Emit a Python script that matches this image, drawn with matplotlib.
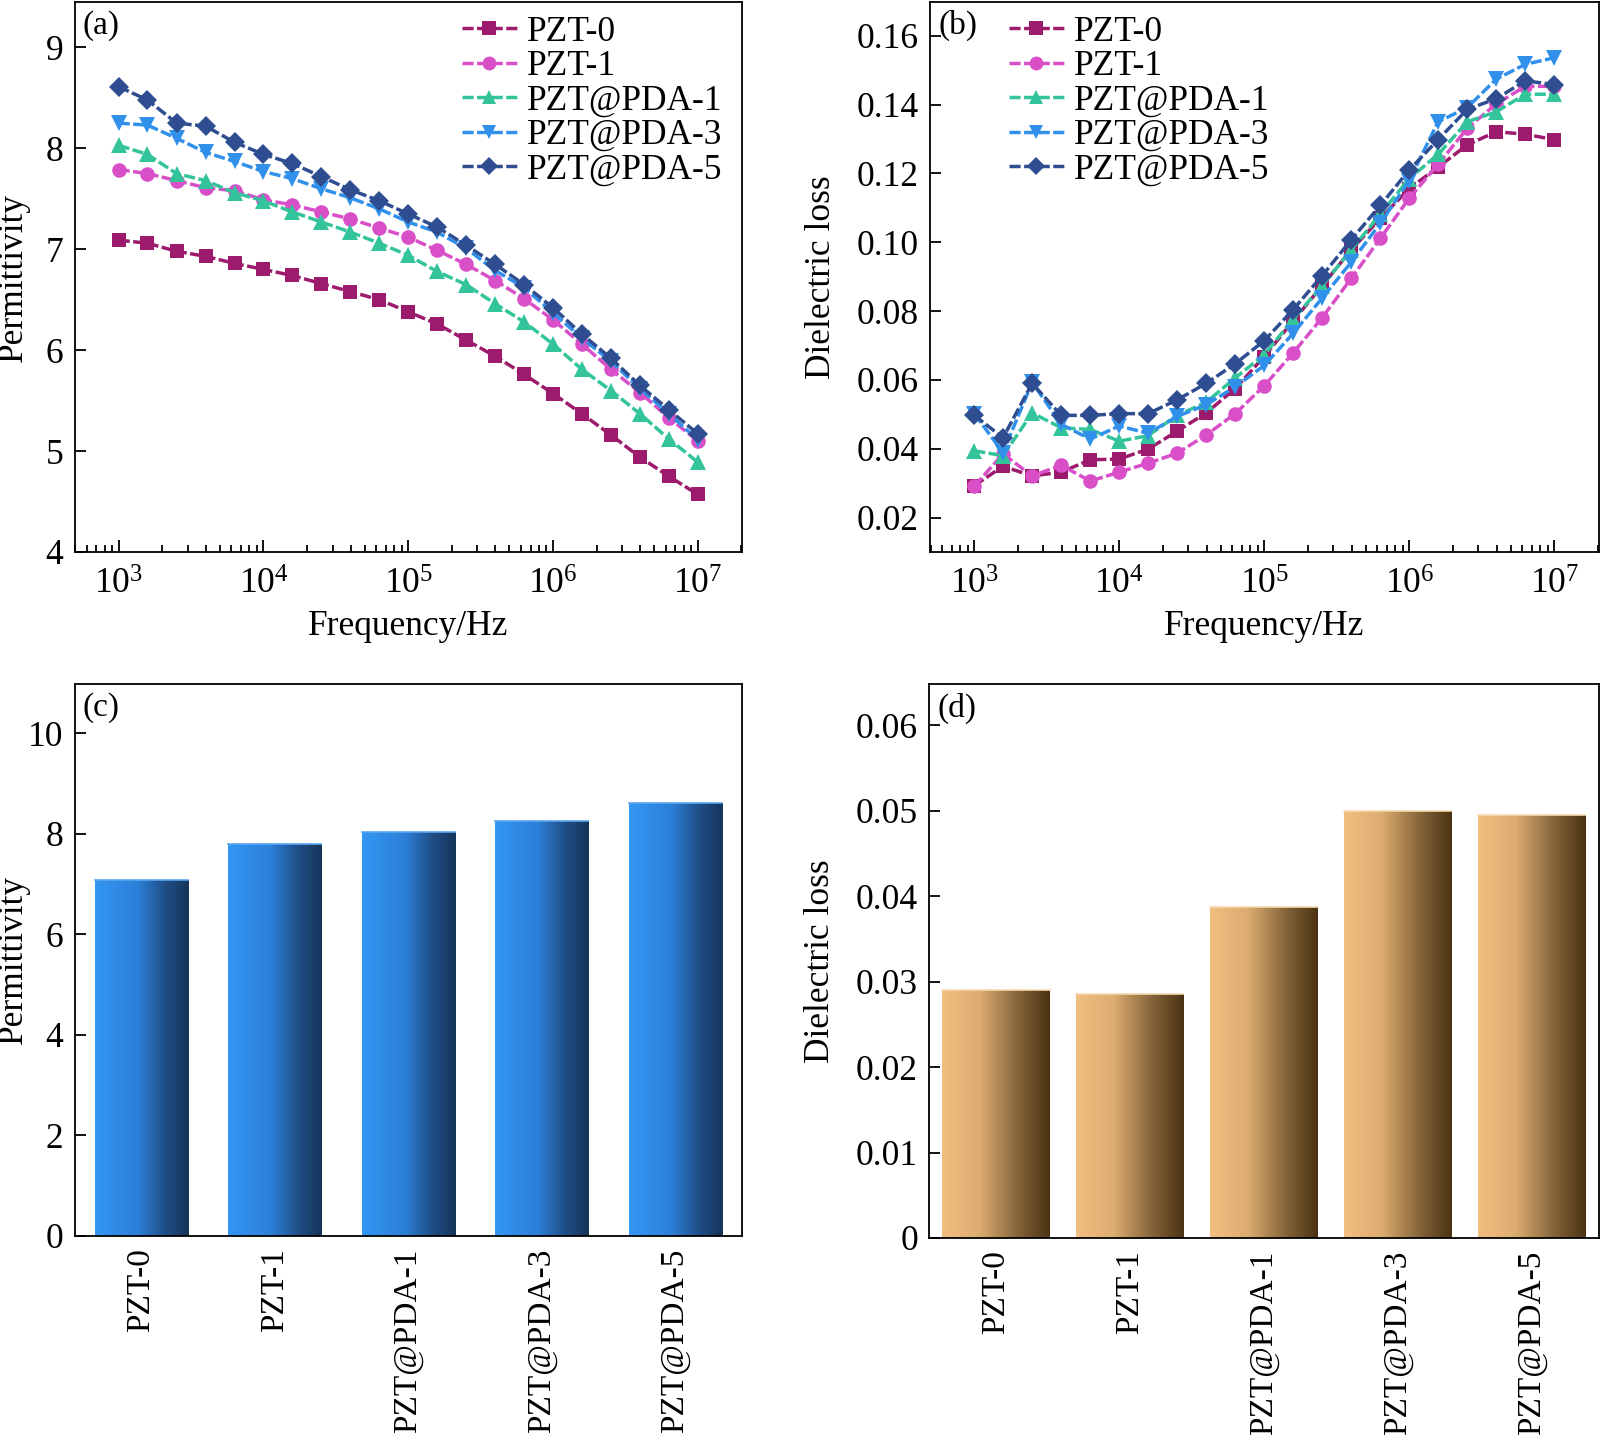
import numpy as np
import matplotlib
matplotlib.use("Agg")
import matplotlib.pyplot as plt
from matplotlib.colors import LinearSegmentedColormap
from matplotlib.ticker import FixedLocator, FuncFormatter, LogLocator, NullFormatter

plt.rcParams['font.family'] = ['Liberation Serif', 'DejaVu Serif']
plt.rcParams['mathtext.fontset'] = 'custom'
plt.rcParams['mathtext.rm'] = 'Liberation Serif'
plt.rcParams['mathtext.it'] = 'Liberation Serif:italic'

# ---------------- data ----------------
samples = ["PZT-0", "PZT-1", "PZT@PDA-1", "PZT@PDA-3", "PZT@PDA-5"]

freq = [1.00e3, 1.58e3, 2.51e3, 3.98e3, 6.31e3,
        1.00e4, 1.58e4, 2.51e4, 3.98e4, 6.31e4,
        1.00e5, 1.58e5, 2.51e5, 3.98e5, 6.31e5,
        1.00e6, 1.58e6, 2.51e6, 3.98e6, 6.31e6, 1.00e7]

perm_pzt0 = [7.09, 7.06, 6.98, 6.93, 6.86, 6.80, 6.74, 6.66, 6.58, 6.50, 6.38,
             6.26, 6.10, 5.94, 5.76, 5.57, 5.37, 5.16, 4.94, 4.75, 4.57]
perm_pzt1 = [7.79, 7.75, 7.68, 7.61, 7.58, 7.49, 7.44, 7.37, 7.30, 7.21, 7.12,
             6.99, 6.85, 6.69, 6.51, 6.30, 6.06, 5.81, 5.58, 5.33, 5.10]
perm_pda1 = [8.03, 7.94, 7.75, 7.68, 7.56, 7.48, 7.37, 7.27, 7.17, 7.06, 6.94,
             6.78, 6.65, 6.46, 6.28, 6.06, 5.81, 5.60, 5.37, 5.12, 4.89]
perm_pda3 = [8.25, 8.23, 8.10, 7.96, 7.87, 7.77, 7.70, 7.60, 7.51, 7.40, 7.27,
             7.17, 7.01, 6.79, 6.62, 6.37, 6.12, 5.89, 5.62, 5.37, 5.11]
perm_pda5 = [8.61, 8.48, 8.25, 8.22, 8.06, 7.94, 7.85, 7.72, 7.59, 7.48, 7.35,
             7.22, 7.04, 6.85, 6.65, 6.42, 6.16, 5.92, 5.65, 5.41, 5.17]

loss_pzt0 = [0.0293, 0.0349, 0.0321, 0.0332, 0.0368, 0.0370, 0.0399, 0.0451, 0.0504, 0.0575, 0.0668,
             0.0771, 0.0874, 0.0978, 0.1069, 0.1156, 0.1218, 0.1283, 0.1321, 0.1314, 0.1298]
loss_pzt1 = [0.0291, 0.0385, 0.0321, 0.0352, 0.0306, 0.0332, 0.0358, 0.0387, 0.0440, 0.0502, 0.0583,
             0.0678, 0.0781, 0.0895, 0.1011, 0.1128, 0.1226, 0.1331, 0.1402, 0.1453, 0.1453]
loss_pda1 = [0.0394, 0.0380, 0.0504, 0.0461, 0.0456, 0.0422, 0.0438, 0.0497, 0.0535, 0.0606, 0.0673,
             0.0776, 0.0874, 0.0978, 0.1081, 0.1185, 0.1255, 0.1350, 0.1379, 0.1430, 0.1430]
loss_pda3 = [0.0502, 0.0389, 0.0593, 0.0471, 0.0428, 0.0466, 0.0445, 0.0494, 0.0528, 0.0580, 0.0642,
             0.0735, 0.0838, 0.0942, 0.1055, 0.1179, 0.1350, 0.1391, 0.1474, 0.1517, 0.1536]
loss_pda5 = [0.0497, 0.0432, 0.0590, 0.0497, 0.0497, 0.0502, 0.0502, 0.0542, 0.0590, 0.0647, 0.0714,
             0.0804, 0.0903, 0.1007, 0.1107, 0.1210, 0.1298, 0.1386, 0.1417, 0.1469, 0.1458]

perm_bar = [7.09, 7.79, 8.03, 8.25, 8.61]
loss_bar = [0.0290, 0.0285, 0.0387, 0.0499, 0.0495]

# ---------------- style ----------------
colors = ["#9C1B6C", "#D94FC8", "#33C49B", "#3191EA", "#2F4E92"]
markers = ["s", "o", "^", "v", "D"]
msizes = [10, 10.5, 11, 11, 10]
FS = 25.5
FS_BAR = 24

W, H = 1600, 1443
fig = plt.figure(figsize=(W / 100, H / 100), dpi=100)


def rect(l, r, t, b):
    return [l / W, 1 - b / H, (r - l) / W, (b - t) / H]


ax_a = fig.add_axes(rect(74.5, 742, 2, 552))
ax_b = fig.add_axes(rect(930, 1598.5, 2, 552))
ax_c = fig.add_axes(rect(74.5, 742, 684, 1236))
ax_d = fig.add_axes(rect(929, 1598.5, 684, 1238))

for ax in (ax_a, ax_b, ax_c, ax_d):
    for sp in ax.spines.values():
        sp.set_linewidth(1.3)
    ax.tick_params(which='both', direction='in', top=False, right=False,
                   labelsize=FS, width=1.3)
    ax.tick_params(which='major', length=8)
    ax.tick_params(which='minor', length=5)
    ax.tick_params(axis='y', pad=8)


def line_panel(ax, series, ylim, yticks, yfmt, ylabel, label, label_x, leg_anchor):
    for vals, name, c, m, ms in zip(series, samples, colors, markers, msizes):
        ax.plot(freq, vals, linestyle=(0, (3.2, 1.0)), linewidth=2.5, color=c,
                marker=m, markersize=ms, markeredgewidth=0, label=name)
    ax.set_xscale('log')
    ax.set_xlim(10 ** 2.695, 10 ** 7.305)
    ax.set_ylim(*ylim)
    ax.xaxis.set_major_locator(FixedLocator([1e3, 1e4, 1e5, 1e6, 1e7]))
    ax.xaxis.set_minor_locator(LogLocator(base=10, subs=np.arange(2, 10), numticks=20))
    ax.xaxis.set_minor_formatter(NullFormatter())
    ax.xaxis.set_major_formatter(FuncFormatter(lambda v, p: r"$10^{%d}$" % round(np.log10(v))))
    ax.tick_params(axis='x', which='major', pad=12, length=9)
    ax.yaxis.set_major_locator(FixedLocator(yticks))
    ax.yaxis.set_major_formatter(FuncFormatter(yfmt))
    ax.set_xlabel("Frequency/Hz", fontsize=FS, labelpad=6)
    ax.set_ylabel(ylabel, fontsize=FS)
    ax.yaxis.set_label_coords(label_x, 0.5)
    ax.text(0.012, 0.985, label, transform=ax.transAxes, ha='left', va='top', fontsize=FS - 1.5)
    ax.legend(loc='upper left', bbox_to_anchor=leg_anchor, frameon=False,
              fontsize=FS, handlelength=1.55, handletextpad=0.3,
              labelspacing=0.04, borderaxespad=0, borderpad=0, markerscale=0.95)


line_panel(ax_a, [perm_pzt0, perm_pzt1, perm_pda1, perm_pda3, perm_pda5],
           (4, 9.45), [4, 5, 6, 7, 8, 9], lambda v, p: "%d" % round(v),
           "Permittivity", "(a)", -0.066, (0.58, 0.975))
line_panel(ax_b, [loss_pzt0, loss_pzt1, loss_pda1, loss_pda3, loss_pda5],
           (0.01, 0.1698), [0.02, 0.04, 0.06, 0.08, 0.10, 0.12, 0.14, 0.16],
           lambda v, p: "%.2f" % v,
           "Dielectric loss", "(b)", -0.137, (0.118, 0.975))

blue_cmap = LinearSegmentedColormap.from_list(
    "blue", [(0, "#3397F3"), (0.45, "#2C80D9"), (0.75, "#1F4E86"), (1.0, "#163459")])
tan_cmap = LinearSegmentedColormap.from_list(
    "tan", [(0, "#F2BF82"), (0.35, "#DDAC70"), (0.7, "#85653A"), (1.0, "#4A3212")])


def bar_panel(ax, vals, width, cmap, ylim, yticks, yfmt, ylabel, label, label_x, edge):
    x = np.arange(len(samples))
    bars = ax.bar(x, vals, width=width, color='none', edgecolor='none', zorder=2)
    grad = np.linspace(0, 1, 256).reshape(1, -1)
    for b in bars:
        x0, y0 = b.get_x(), b.get_y()
        im = ax.imshow(grad, extent=[x0, x0 + b.get_width(), y0, y0 + b.get_height()],
                       aspect='auto', cmap=cmap, interpolation='bicubic', zorder=1)
        im.set_clip_path(b)
        ax.plot([x0, x0 + b.get_width()], [b.get_height()] * 2, color=edge, lw=1.2, zorder=3)
    ax.set_xlim(-0.5, len(samples) - 0.5)
    ax.set_ylim(*ylim)
    ax.set_xticks(x)
    ax.set_xticklabels(samples, rotation=90, fontsize=FS_BAR)
    ax.tick_params(axis='x', length=0, pad=9)
    ax.yaxis.set_major_locator(FixedLocator(yticks))
    ax.yaxis.set_major_formatter(FuncFormatter(yfmt))
    ax.set_ylabel(ylabel, fontsize=FS)
    ax.yaxis.set_label_coords(label_x, 0.5)
    ax.text(0.012, 0.985, label, transform=ax.transAxes, ha='left', va='top', fontsize=FS - 1.5)


bar_panel(ax_c, perm_bar, 0.70, blue_cmap, (0, 10.98), [0, 2, 4, 6, 8, 10],
          lambda v, p: "%d" % round(v), "Permittivity", "(c)", -0.066, "#5AA6F0")
bar_panel(ax_d, loss_bar, 0.80, tan_cmap, (0, 0.0648), [0, 0.01, 0.02, 0.03, 0.04, 0.05, 0.06],
          lambda v, p: "0" if abs(v) < 1e-9 else "%.2f" % v,
          "Dielectric loss", "(d)", -0.137, "#F5D9B0")

fig.savefig("out.png", dpi=100, facecolor='white')
